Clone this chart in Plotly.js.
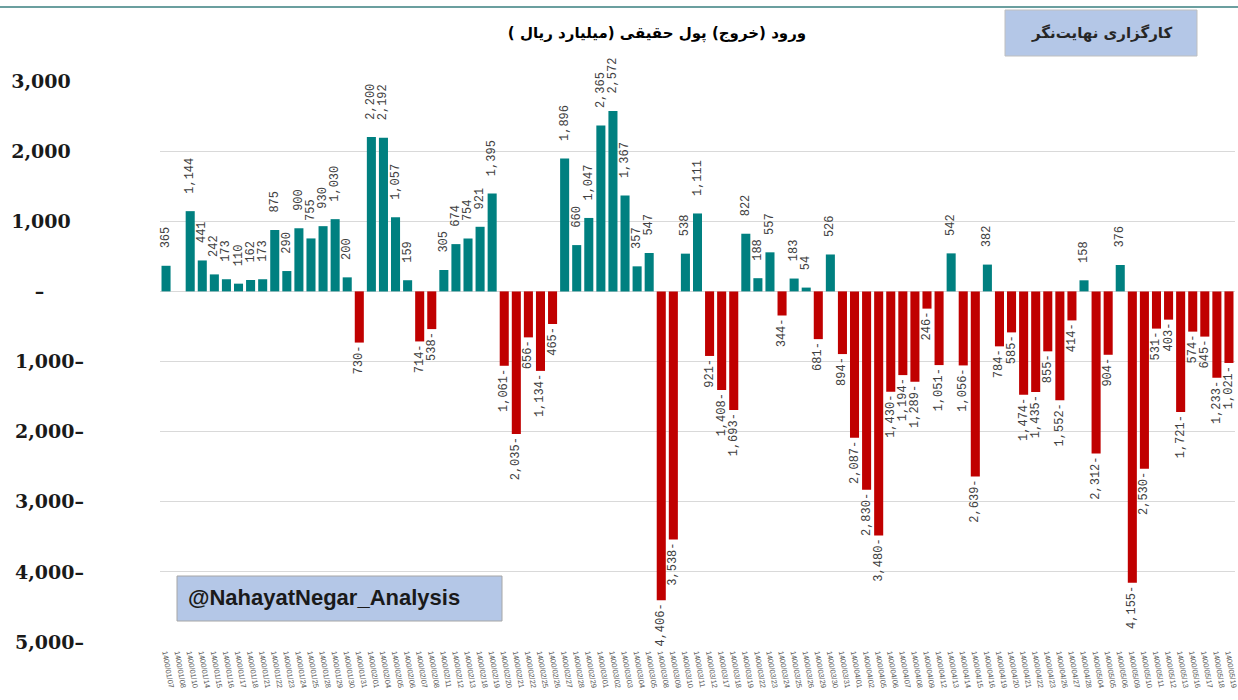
<!DOCTYPE html>
<html>
<head>
<meta charset="utf-8">
<script src="https://cdn.plot.ly/plotly-3.0.1.min.js"></script>
<style>html,body{margin:0;padding:0;background:#fff;}#chart{width:1238px;height:700px;}</style>
</head>
<body>
<div id="chart"></div>
<script>
const dates = [
  "1400/01/07","1400/01/08","1400/01/10","1400/01/14","1400/01/15","1400/01/16","1400/01/17","1400/01/18",
  "1400/01/21","1400/01/22","1400/01/23","1400/01/24","1400/01/25","1400/01/28","1400/01/29","1400/01/30",
  "1400/01/31","1400/02/01","1400/02/04","1400/02/05","1400/02/06","1400/02/07","1400/02/08","1400/02/11",
  "1400/02/12","1400/02/13","1400/02/18","1400/02/19","1400/02/20","1400/02/21","1400/02/22","1400/02/25",
  "1400/02/26","1400/02/27","1400/02/28","1400/02/29","1400/03/01","1400/03/02","1400/03/03","1400/03/04",
  "1400/03/05","1400/03/08","1400/03/09","1400/03/10","1400/03/11","1400/03/12","1400/03/17","1400/03/18",
  "1400/03/19","1400/03/22","1400/03/23","1400/03/24","1400/03/25","1400/03/26","1400/03/29","1400/03/30",
  "1400/03/31","1400/04/01","1400/04/02","1400/04/05","1400/04/06","1400/04/07","1400/04/08","1400/04/09",
  "1400/04/12","1400/04/13","1400/04/14","1400/04/15","1400/04/16","1400/04/19","1400/04/20","1400/04/21",
  "1400/04/22","1400/04/23","1400/04/26","1400/04/27","1400/04/28","1400/05/04","1400/05/05","1400/05/06",
  "1400/05/09","1400/05/10","1400/05/11","1400/05/12","1400/05/13","1400/05/16","1400/05/17","1400/05/18",
  "1400/05/19"
];
const flows = [
  365, null, 1144, 441, 242, 173, 110, 162,
  173, 875, 290, 900, 755, 930, 1030, 200,
  -730, 2200, 2192, 1057, 159, -714, -538, 305,
  674, 754, 921, 1395, -1061, -2035, -656, -1134,
  -465, 1896, 660, 1047, 2365, 2572, 1367, 357,
  547, -4406, -3538, 538, 1111, -921, -1408, -1693,
  822, 188, 557, -344, 183, 54, -681, 526,
  -894, -2087, -2830, -3480, -1430, -1194, -1289, -246,
  -1051, 542, -1056, -2639, 382, -784, -585, -1474,
  -1435, -855, -1552, -414, 158, -2312, -904, 376,
  -4155, -2530, -531, -403, -1721, -574, -645, -1233,
  -1021
];
const tickVals = [3000, 2000, 1000, 0, -1000, -2000, -3000, -4000, -5000];
const tickText = ["3,000", "2,000", "1,000", "–", "1,000–", "2,000–", "3,000–", "4,000–", "5,000–"];
const titleText = "ورود (خروج) پول حقیقی (میلیارد ریال )";
const brokerText = "کارگزاری نهایت‌نگر";
const handleText = "@NahayatNegar_Analysis";

const TEAL = "#008080", RED = "#C00000";
const NB = "\u00a0";
function fmt(v){ return Math.abs(v).toLocaleString("en-US"); }
const labels = flows.map(v => v == null ? "" : (v >= 0 ? NB + NB + fmt(v) : fmt(v) + "-"));
const colors = flows.map(v => v != null && v < 0 ? RED : TEAL);
const yTickText = tickText.map((t, i) => tickVals[i] > 0 ? t + NB + NB : (tickVals[i] === 0 ? t + NB.repeat(6) : t));

// plot area geometry (px) used for paper placement of decorations
const W = 1238, H = 700, L = 160, R = 3, T = 81, B = 58;
const pw = W - L - R, ph = H - T - B;
const px = x => (x - L) / pw;
const py = y => (H - B - y) / ph;

const trace = {
  type: "bar",
  x: dates,
  y: flows,
  marker: { color: colors, line: { width: 0 } },
  text: labels,
  textposition: "outside",
  textangle: -90,
  constraintext: "none",
  cliponaxis: false,
  textfont: { family: "Liberation Mono, DejaVu Sans Mono, monospace", size: 12, color: "#404040" },
  hoverinfo: "skip"
};

const layout = {
  width: W, height: H,
  margin: { l: L, r: R, t: T, b: B },
  paper_bgcolor: "#ffffff",
  plot_bgcolor: "#ffffff",
  showlegend: false,
  bargap: 0.25,
  title: {
    text: "<b>" + titleText + "</b>",
    x: 657 / W, xanchor: "center", xref: "container",
    y: 1 - 33 / H, yanchor: "middle", yref: "container",
    font: { family: "DejaVu Sans, sans-serif", size: 15, color: "#000000" }
  },
  xaxis: {
    type: "category",
    tickangle: 80,
    tickfont: { family: "Liberation Sans, Arial, sans-serif", size: 7.5, color: "#595959" },
    showgrid: false,
    zeroline: false,
    showline: false,
    ticks: "",
    ticklabelstandoff: 4,
    automargin: false
  },
  yaxis: {
    range: [-5000, 3000],
    tickvals: tickVals,
    ticktext: yTickText,
    tickfont: { family: "DejaVu Serif, serif", size: 19, color: "#1a1a1a", weight: "bold" },
    showgrid: true,
    gridcolor: "#d9d9d9",
    gridwidth: 1,
    zeroline: true,
    zerolinecolor: "#d9d9d9",
    zerolinewidth: 1,
    showline: false,
    ticks: "",
    ticklabelstandoff: 75,
    automargin: false
  },
  shapes: [
    { type: "line", xref: "paper", yref: "paper", x0: px(0), x1: px(W), y0: py(7), y1: py(7),
      line: { color: "#3a7f7f", width: 1.5 } },
    { type: "rect", xref: "paper", yref: "paper", x0: px(1005), x1: px(1197), y0: py(56), y1: py(10),
      fillcolor: "#B4C7E7", line: { color: "#bfbfbf", width: 1 } },
    { type: "rect", xref: "paper", yref: "paper", x0: px(177), x1: px(502), y0: py(621), y1: py(576),
      fillcolor: "#B4C7E7", line: { color: "#a6a6a6", width: 1 } }
  ],
  annotations: [
    { xref: "paper", yref: "paper", x: px(1101), y: py(33), xanchor: "center", yanchor: "middle",
      text: "<b>" + brokerText + "</b>", showarrow: false,
      font: { family: "DejaVu Sans, sans-serif", size: 15, color: "#262626" } },
    { xref: "paper", yref: "paper", x: px(186), y: py(597), xanchor: "left", yanchor: "middle",
      text: "<b>" + handleText + "</b>", showarrow: false,
      font: { family: "Liberation Sans, Arial, sans-serif", size: 22, color: "#1a1a1a" } }
  ]
};

Plotly.newPlot("chart", [trace], layout, { staticPlot: true, displayModeBar: false });
</script>
</body>
</html>
